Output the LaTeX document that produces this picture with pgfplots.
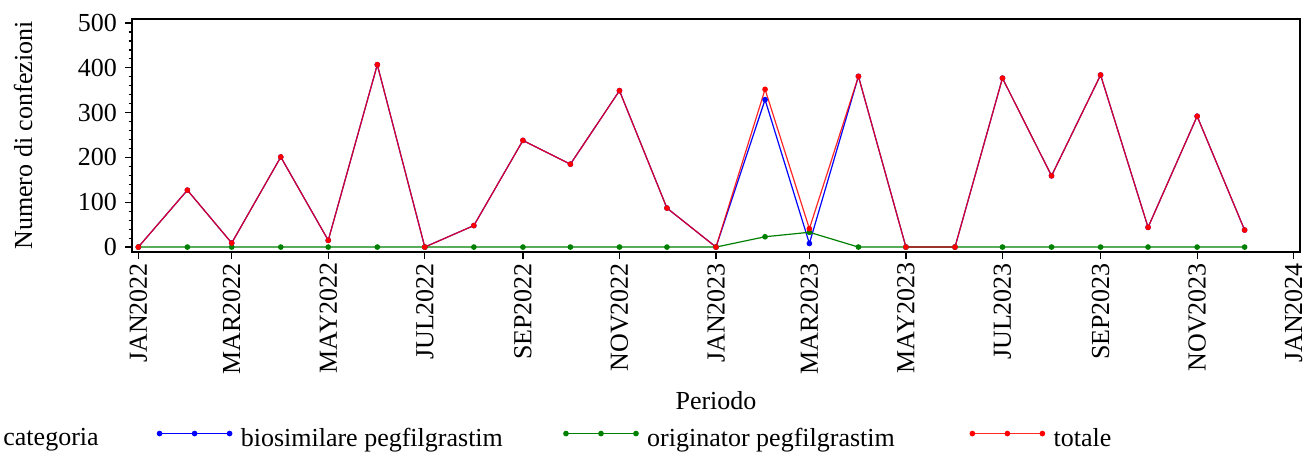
\documentclass[border=0pt]{standalone}
\usepackage{fontspec}
\setmainfont{Liberation Serif}
\usepackage{pgfplots}
\usepackage{pgfplotstable}
\pgfplotsset{compat=1.18}
\definecolor{sasblue}{RGB}{0,0,255}
\definecolor{sasgreen}{RGB}{0,128,0}
\definecolor{sasred}{RGB}{255,0,0}
\pgfplotstableread{
day bio orig tot
0 0 0 0
31 127 0 127
59 9 0 9
90 201 0 201
120 15 0 15
151 407 0 407
181 0 0 0
212 48 0 48
243 238 0 238
273 185 0 185
304 349 0 349
334 87 0 87
365 0 0 0
396 329 23 352
424 8 33 41
455 381 0 381
485 0 0 0
516 0 0 0
546 377 0 377
577 159 0 159
608 384 0 384
638 44 0 44
669 292 0 292
699 38 0 38
}\datatab
\begin{document}
\fontsize{13}{15.6}\selectfont
\begin{tikzpicture}
\useasboundingbox (0,0) rectangle (652pt,226.5pt);
\begin{axis}[
  at={(66pt,100.5pt)}, anchor=south west,
  scale only axis, width=584pt, height=116.5pt,
  xmin=-4, xmax=734, ymin=-11, ymax=509,
  xtick={0,59,120,181,243,304,365,424,485,546,608,669,730},
  xticklabels={JAN2022,MAR2022,MAY2022,JUL2022,SEP2022,NOV2022,JAN2023,MAR2023,MAY2023,JUL2023,SEP2023,NOV2023,JAN2024},
  ytick={0,100,200,300,400,500},
  minor y tick num=4,
  tick align=outside,
  xtick pos=bottom, ytick pos=left,
  major tick length=3.3pt, minor tick length=1.7pt,
  axis line style={line width=0.7pt},
  every tick/.style={black, line width=0.6pt},
  xticklabel style={rotate=90, anchor=east, inner sep=0pt},
  yticklabel style={inner sep=0pt},
  xticklabel shift=2pt,
  yticklabel shift=4pt,
  /pgf/number format/assume math mode=true,
  xlabel={Periodo},
  xlabel style={at={(axis description cs:0.5,-0.678)}, anchor=base, inner sep=0pt},
  ylabel={Numero di confezioni},
  ylabel style={at={(axis description cs:-0.0933,0.5)}, anchor=center, inner sep=0pt},
  legend columns=3,
  legend cell align=left,
  legend style={at={(axis description cs:0.0214,-0.805)}, anchor=west, draw=none, fill=none, inner sep=0pt, nodes={inner sep=0pt}, column sep=0pt,
    /tikz/every odd column/.append style={column sep=4.5pt}},
  legend image code/.code={\draw[#1] plot coordinates {(0pt,3pt) (17.5pt,3pt) (35pt,3pt)};},
]
\addplot[sasblue, line width=0.6pt, mark=*, mark size=1.1pt, mark options={solid, fill=sasblue}] table[x=day, y=bio] {\datatab};
\addlegendentry{\makebox[161.5pt][l]{biosimilare pegfilgrastim}}
\addplot[sasgreen, line width=0.6pt, mark=*, mark size=1.1pt, mark options={solid, fill=sasgreen}] table[x=day, y=orig] {\datatab};
\addlegendentry{\makebox[161.5pt][l]{originator pegfilgrastim}}
\addplot[sasred, draw opacity=0.85, line width=0.6pt, mark=*, mark size=1.1pt, mark options={solid, fill=sasred, opacity=1}] table[x=day, y=tot] {\datatab};
\addlegendentry{totale}
\end{axis}
\node[anchor=base west, inner sep=0pt] at (1.5pt,3.65pt) {categoria};
\end{tikzpicture}
\end{document}
